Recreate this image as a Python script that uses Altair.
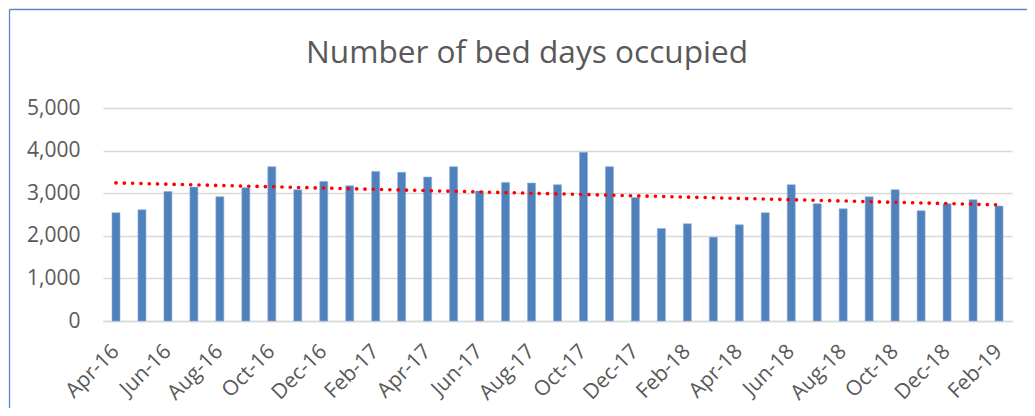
import altair as alt
import pandas as pd
import numpy as np

title_text = "Number of bed days occupied"
months = ["Apr-16","May-16","Jun-16","Jul-16","Aug-16","Sep-16","Oct-16","Nov-16","Dec-16",
          "Jan-17","Feb-17","Mar-17","Apr-17","May-17","Jun-17","Jul-17","Aug-17","Sep-17",
          "Oct-17","Nov-17","Dec-17","Jan-18","Feb-18","Mar-18","Apr-18","May-18","Jun-18",
          "Jul-18","Aug-18","Sep-18","Oct-18","Nov-18","Dec-18","Jan-19","Feb-19"]
bed_days = [2540, 2610, 3040, 3143, 2916, 3128, 3622, 3081, 3277,
            3175, 3512, 3489, 3379, 3622, 3050, 3254, 3238, 3199,
            3959, 3622, 2901, 2172, 2281, 1968, 2258, 2540, 3199,
            2752, 2634, 2916, 3081, 2587, 2752, 2846, 2697]
y_ticks = [0, 1000, 2000, 3000, 4000, 5000]

idx = np.arange(len(months))
slope, intercept = np.polyfit(idx, np.array(bed_days, dtype=float), 1)
trend = (slope * idx + intercept).tolist()

df = pd.DataFrame({"month": months, "value": bed_days, "trend": trend})

FONT = "Open Sans"
TXT = "#595959"

x_enc = alt.X("month:N", sort=months,
              scale=alt.Scale(paddingInner=0, paddingOuter=0),
              axis=alt.Axis(title=None, values=months[::2], labelAngle=-45,
                            labelAlign="right", labelBaseline="middle",
                            labelPadding=27, ticks=False, domain=True,
                            domainColor="#D9D9D9", domainWidth=1.3,
                            labelFont=FONT, labelFontSize=21, labelColor=TXT,
                            grid=False))
y_scale = alt.Scale(domain=[0, 5000], nice=False)

bars = alt.Chart(df).mark_bar(size=8, color="#4F81BD", stroke="#8EADD6",
                              strokeWidth=0.6).encode(
    x=x_enc,
    y=alt.Y("value:Q", scale=y_scale,
            axis=alt.Axis(title=None, values=y_ticks, format=",.0f", ticks=False,
                          domain=False, labelPadding=23, labelFont=FONT,
                          labelFontSize=21, labelColor=TXT, gridColor="#D9D9D9",
                          gridWidth=1.3))
)

line = alt.Chart(df).mark_line(color="#FF0000", strokeWidth=3.6,
                               strokeDash=[0.1, 8.2], strokeCap="round").encode(
    x=alt.X("month:N", sort=months),
    y=alt.Y("trend:Q", scale=y_scale)
)

box = alt.Data(values=[{"t": title_text}])
left_border = alt.Chart(box).mark_rule(color="#5B87C5", strokeWidth=1.3).encode(
    x=alt.value(-93.5), y=alt.value(-98.5), y2=alt.value(400))
top_border = alt.Chart(box).mark_rule(color="#5B87C5", strokeWidth=1.3).encode(
    x=alt.value(-93.5), x2=alt.value(1000), y=alt.value(-98.5))
title = alt.Chart(box).mark_text(font=FONT, fontSize=31.6, color=TXT, align="center",
                                 baseline="alphabetic").encode(
    text="t:N", x=alt.value(424), y=alt.value(-45))

chart = alt.layer(bars, line, left_border, top_border, title).properties(
    width=909, height=213,
    autosize=alt.AutoSizeParams(type="none"),
    padding={"left": 95, "top": 100, "right": 15, "bottom": 87},
).configure_view(stroke=None)

chart.save("out.html", embed_options={"renderer": "svg", "actions": False})
